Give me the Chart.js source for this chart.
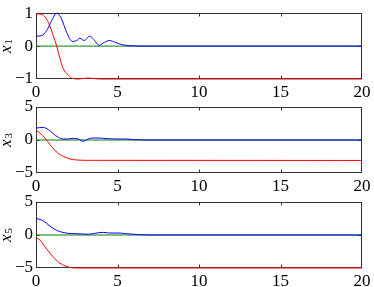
<!DOCTYPE html>
<html>
<head>
<meta charset="UTF-8">
<title>x1 x3 x5</title>
<script src="https://cdn.jsdelivr.net/npm/chart.js"></script>
<style>
  body { margin: 0; background: #fff; }
  #wrap { position: relative; width: 374px; height: 287px; overflow: hidden; }
  canvas { position: absolute; left: 0; top: 0; }
</style>
</head>
<body>
<div id="wrap">
  <canvas id="c1" width="374" height="300"></canvas>
  <canvas id="c3" width="374" height="300"></canvas>
  <canvas id="c5" width="374" height="300"></canvas>
</div>
<script>
// x-axis ticks shared by all three panels
const xTicks = [0, 5, 10, 15, 20];

// panel x1
const x1BlueT = [0, 0.35, 0.65, 0.96, 1.15, 1.3, 1.45, 1.57, 1.88, 2.1, 2.24, 2.5, 2.7, 2.94, 3.1, 3.27, 3.55, 3.75, 3.88, 4.12, 4.5, 4.84, 5.24, 5.76, 7, 20];
const x1Blue  = [0.3, 0.32, 0.47, 0.77, 0.95, 1.0, 0.93, 0.82, 0.42, 0.2, 0.14, 0.17, 0.24, 0.17, 0.22, 0.3, 0.2, 0.07, 0.02, 0.09, 0.17, 0.12, 0.05, 0.01, 0, 0];
const x1RedT  = [0, 0.3, 0.5, 0.76, 1.06, 1.27, 1.47, 1.67, 1.98, 2.24, 2.6, 3.2, 3.6, 4.0, 20];
const x1Red   = [0.98, 0.97, 0.92, 0.72, 0.32, 0, -0.38, -0.68, -0.88, -0.98, -1.0, -0.97, -0.99, -1.0, -1.0];

// panel x3
const x3BlueT = [0, 0.45, 0.76, 1.06, 1.37, 1.67, 1.98, 2.29, 2.6, 2.9, 3.2, 3.5, 3.9, 4.3, 4.9, 5.55, 6.0, 7, 20];
const x3Blue  = [1.82, 1.9, 1.57, 0.96, 0.4, 0.15, 0.15, 0.25, 0.15, -0.2, 0.15, 0.3, 0.3, 0.2, 0.15, 0.15, 0.05, 0, 0];
const x3RedT  = [0, 0.24, 0.55, 0.86, 1.16, 1.47, 1.78, 2.08, 2.5, 3.2, 20];
const x3Red   = [1.46, 1.06, 0.3, -0.7, -1.57, -2.2, -2.6, -2.88, -3.03, -3.08, -3.1];

// panel x5
const x5BlueT = [0, 0.35, 0.65, 0.96, 1.27, 1.57, 1.98, 2.4, 2.9, 3.2, 3.6, 4.12, 4.5, 5.04, 5.55, 6.3, 7, 20];
const x5Blue  = [2.5, 2.26, 1.76, 1.16, 0.7, 0.45, 0.25, 0.2, 0.15, 0.1, 0.25, 0.4, 0.3, 0.3, 0.2, 0.05, 0, 0];
const x5RedT  = [0, 0.24, 0.55, 0.86, 1.16, 1.47, 1.78, 2.08, 2.5, 20];
const x5Red   = [-0.4, -0.75, -1.76, -2.76, -3.6, -4.27, -4.67, -4.92, -5, -5];

const greenT = [0, 20];
const green  = [0, 0];

function pts(t, v) {
  return t.map((x, i) => ({ x: x, y: v[i] }));
}

const serif = '"Liberation Serif", "Times New Roman", Times, serif';
Chart.defaults.font.family = serif;

// box round the plot plus small inward tick marks (matlab style), drawn under the lines
const boxPlugin = {
  id: 'box',
  beforeDatasetsDraw(chart) {
    const ctx = chart.ctx;
    const a = chart.chartArea;
    const l = Math.round(a.left) + 0.5, r = Math.round(a.right) - 0.5;
    const t = Math.round(a.top) + 0.5, b = Math.round(a.bottom) - 0.5;
    ctx.save();
    ctx.strokeStyle = '#333';
    ctx.lineWidth = 1;
    ctx.strokeRect(l, t, r - l, b - t);
    ctx.beginPath();
    const xs = chart.scales.x;
    xs.ticks.forEach(tk => {
      if (tk.value <= xs.min || tk.value >= xs.max) return;
      const px = Math.round(xs.getPixelForValue(tk.value)) + 0.5;
      ctx.moveTo(px, b); ctx.lineTo(px, b - 3);
      ctx.moveTo(px, t); ctx.lineTo(px, t + 3);
    });
    const ys = chart.scales.y;
    ys.ticks.forEach(tk => {
      if (tk.value <= ys.min || tk.value >= ys.max) return;
      const py = Math.round(ys.getPixelForValue(tk.value)) + 0.5;
      ctx.moveTo(l, py); ctx.lineTo(l + 3, py);
      ctx.moveTo(r, py); ctx.lineTo(r - 3, py);
    });
    ctx.stroke();
    ctx.restore();
  },
  // y label: italic x with a subscript index, rotated
  afterDraw(chart, args, opts) {
    const ctx = chart.ctx;
    const a = chart.chartArea;
    ctx.save();
    ctx.translate(11, (a.top + a.bottom) / 2);
    ctx.rotate(-Math.PI / 2);
    ctx.fillStyle = '#000';
    ctx.textBaseline = 'alphabetic';
    ctx.font = 'italic 17px ' + serif;
    const wx = ctx.measureText('x').width;
    ctx.font = '11px ' + serif;
    const ws = ctx.measureText(opts.sub).width;
    const x0 = -(wx + ws + 1) / 2;
    ctx.font = 'italic 17px ' + serif;
    ctx.fillText('x', x0, 0);
    ctx.font = '11px ' + serif;
    ctx.fillText(opts.sub, x0 + wx + 1, 1);
    ctx.restore();
  }
};

function makePanel(id, sub, lim, step, blueT, blue, redT, red, top, bottom) {
  new Chart(document.getElementById(id), {
    type: 'line',
    data: {
      datasets: [
        { data: pts(blueT, blue), borderColor: 'rgb(0,0,255)' },
        { data: pts(redT, red), borderColor: 'rgb(255,0,0)' },
        { data: pts(greenT, green), borderColor: 'rgb(0,128,0)' }
      ]
    },
    options: {
      responsive: false,
      animation: false,
      clip: false,
      layout: { padding: { top: top, right: 12, left: 0, bottom: 300 - bottom - 26 } },
      elements: {
        point: { radius: 0 },
        line: { borderWidth: 1, cubicInterpolationMode: 'monotone' }
      },
      plugins: { legend: { display: false }, tooltip: { enabled: false }, box: { sub: sub } },
      scales: {
        x: {
          type: 'linear', min: 0, max: 20,
          afterBuildTicks: s => { s.ticks = xTicks.map(v => ({ value: v })); },
          afterFit: s => { s.height = 26; },
          grid: { display: false, drawTicks: false },
          border: { display: false },
          ticks: { color: '#000', padding: 3, maxRotation: 0, font: { size: 17 } }
        },
        y: {
          min: -lim, max: lim,
          afterFit: s => { s.width = 36; },
          grid: { display: false, drawTicks: false },
          border: { display: false },
          ticks: {
            stepSize: step, color: '#000', padding: 3,
            font: { size: 17 },
            callback: v => String(v).replace('-', '\u2212')
          }
        }
      }
    },
    plugins: [boxPlugin]
  });
}

makePanel('c1', '1', 1, 1, x1BlueT, x1Blue, x1RedT, x1Red, 12, 79);
makePanel('c3', '3', 5, 5, x3BlueT, x3Blue, x3RedT, x3Red, 107, 173);
makePanel('c5', '5', 5, 5, x5BlueT, x5Blue, x5RedT, x5Red, 202, 268);
</script>
</body>
</html>
